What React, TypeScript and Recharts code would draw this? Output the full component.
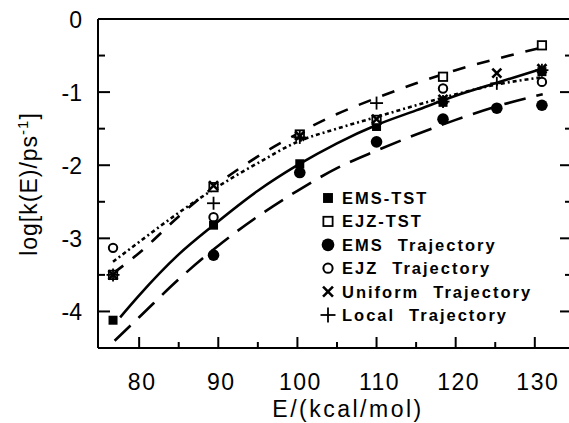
import React from "react";
import { ComposedChart, Line, Scatter, XAxis, YAxis, Legend } from "recharts";

// ---------- data ----------
const xTicks = [80, 85, 90, 95, 100, 105, 110, 115, 120, 125, 130];
const xMajor = [80, 90, 100, 110, 120, 130];
const yTicks = [0, -0.5, -1, -1.5, -2, -2.5, -3, -3.5, -4];
const yMajor = [0, -1, -2, -3, -4];

// fitted curves
const emsTstFitE = [77.6, 80, 85, 89.4, 95, 100, 105, 110, 115, 120, 125, 130.9];
const emsTstFitV = [-4.08, -3.78, -3.22, -2.82, -2.35, -2.0, -1.7, -1.45, -1.25, -1.05, -0.88, -0.68];

const emsTrajFitE = [76.9, 80, 85, 90, 95, 100, 105, 110, 115, 120, 125, 131];
const emsTrajFitV = [-4.4, -4.08, -3.56, -3.1, -2.7, -2.35, -2.04, -1.8, -1.58, -1.38, -1.2, -1.03];

const ejzTstFitE = [76.7, 80, 85, 89.4, 95, 100, 105, 110, 115, 120, 125, 130.5];
const ejzTstFitV = [-3.48, -3.2, -2.7, -2.3, -1.88, -1.57, -1.3, -1.08, -0.88, -0.7, -0.55, -0.4];

const ejzTrajFitE = [76.7, 80, 85, 89.4, 95, 100, 105, 110, 115, 120, 125, 130.8];
const ejzTrajFitV = [-3.32, -3.05, -2.65, -2.33, -1.97, -1.68, -1.5, -1.34, -1.18, -1.03, -0.9, -0.8];

// points
const emsTstE = [76.7, 89.4, 100.3, 110.0, 118.4, 130.9];
const emsTstV = [-4.12, -2.82, -1.98, -1.47, -1.14, -0.72];

const ejzTstE = [76.7, 89.4, 100.3, 110.0, 118.4, 130.9];
const ejzTstV = [-3.5, -2.3, -1.58, -1.38, -0.79, -0.36];

const emsTrajE = [89.4, 100.3, 110.0, 118.4, 125.2, 130.9];
const emsTrajV = [-3.23, -2.1, -1.68, -1.37, -1.22, -1.18];

const ejzTrajE = [76.7, 89.4, 118.4, 130.9];
const ejzTrajV = [-3.13, -2.71, -0.95, -0.86];

const uniformE = [76.7, 89.4, 100.3, 110.0, 118.4, 125.2, 130.9];
const uniformV = [-3.5, -2.28, -1.6, -1.37, -1.1, -0.74, -0.68];

const localE = [76.7, 89.4, 100.3, 110.0, 118.4, 125.2, 130.9];
const localV = [-3.5, -2.52, -1.62, -1.15, -1.13, -0.88, -0.7];

const legendNames = [
  ["EMS-TST", ""],
  ["EJZ-TST", ""],
  ["EMS", "Trajectory"],
  ["EJZ", "Trajectory"],
  ["Uniform", "Trajectory"],
  ["Local", "Trajectory"],
];
const legendKinds = ["fsq", "osq", "fci", "oci", "x", "plus"];

const zip = (e: number[], v: number[]) => e.map((x, i) => ({ e: x, v: v[i] }));

// ---------- styles ----------
const FONT = "'Liberation Sans', Arial, Helvetica, sans-serif";
const INK = "#000";

function marker(kind: string, cx: number, cy: number, big = false) {
  const s = big ? 1.1 : 1;
  switch (kind) {
    case "fsq":
      return <rect x={cx - 4.5 * s} y={cy - 4.5 * s} width={9 * s} height={9 * s} fill={INK} />;
    case "osq":
      return (
        <rect x={cx - 4.2 * s} y={cy - 4.2 * s} width={8.4 * s} height={8.4 * s} fill="#fff" stroke={INK} strokeWidth={1.8} />
      );
    case "fci":
      return <circle cx={cx} cy={cy} r={5.8 * s} fill={INK} />;
    case "oci":
      return <circle cx={cx} cy={cy} r={4.2 * s} fill="#fff" stroke={INK} strokeWidth={2} />;
    case "x":
      return (
        <g stroke={INK} strokeWidth={2.6}>
          <line x1={cx - 4.5 * s} y1={cy - 4.5 * s} x2={cx + 4.5 * s} y2={cy + 4.5 * s} />
          <line x1={cx - 4.5 * s} y1={cy + 4.5 * s} x2={cx + 4.5 * s} y2={cy - 4.5 * s} />
        </g>
      );
    default: {
      const h = big ? 7.5 : 6.5;
      return (
        <g stroke={INK} strokeWidth={1.8}>
          <line x1={cx - h} y1={cy} x2={cx + h} y2={cy} />
          <line x1={cx} y1={cy - h} x2={cx} y2={cy + h} />
        </g>
      );
    }
  }
}

const shapeOf = (kind: string) => (p: any) => <g>{marker(kind, p.cx, p.cy)}</g>;

// ---------- ticks ----------
const BottomTick = (p: any) => {
  const { x, y, payload } = p;
  const major = xMajor.includes(payload.value);
  return (
    <g>
      <line x1={x} y1={y} x2={x} y2={y - (major ? 11 : 6)} stroke={INK} strokeWidth={2} />
      {major && (
        <text x={x + 3} y={y + 42} textAnchor="middle" fontSize={23} letterSpacing={1.5} fontFamily={FONT} fill={INK}>
          {payload.value}
        </text>
      )}
    </g>
  );
};
const TopTick = (p: any) => {
  const { x, y, payload } = p;
  const major = xMajor.includes(payload.value);
  return <line x1={x} y1={y} x2={x} y2={y + (major ? 11 : 6)} stroke={INK} strokeWidth={2} />;
};
const LeftTick = (p: any) => {
  const { x, y, payload } = p;
  const major = yMajor.includes(payload.value);
  return (
    <g>
      <line x1={x} y1={y} x2={x + (major ? 12 : 7)} y2={y} stroke={INK} strokeWidth={2} />
      {major && (
        <text x={x - 16} y={y + 9} textAnchor="end" fontSize={23} fontFamily={FONT} fill={INK}>
          {String(payload.value)}
        </text>
      )}
    </g>
  );
};
const RightTick = (p: any) => {
  const { x, y, payload } = p;
  const major = yMajor.includes(payload.value);
  return <line x1={x} y1={y} x2={x - (major ? 12 : 7)} y2={y} stroke={INK} strokeWidth={2} />;
};

const renderYTitle = () => (
  <text transform="rotate(-90)" x={-184} y={37} textAnchor="middle" fontSize={23} letterSpacing={1} fontFamily={FONT} fill={INK}>
    log[k(E)/ps
    <tspan dy={-9} fontSize={15}>-1</tspan>
    <tspan dy={9}>]</tspan>
  </text>
);
const renderXTitle = () => (
  <text x={348} y={417} textAnchor="middle" fontSize={23} letterSpacing={2.5} fontFamily={FONT} fill={INK}>
    E/(kcal/mol)
  </text>
);

const renderLegend = () => (
  <svg width={250} height={145} style={{ display: "block" }}>
    {legendNames.map((n, i) => {
      const cy = 13 + i * 23.4;
      return (
        <g key={i}>
          {marker(legendKinds[i], 18, cy, true)}
          <text x={32} y={cy + 6} fontSize={16.5} fontWeight="bold" letterSpacing={2} fontFamily={FONT} fill={INK}>
            {n[0]}
            {n[1] && <tspan dx={14}>{n[1]}</tspan>}
          </text>
        </g>
      );
    })}
  </svg>
);

export default function App() {
  const axisLine = { stroke: INK, strokeWidth: 2 };
  return (
    <div style={{ position: "absolute", left: 0, top: 0, width: 569, height: 423, overflow: "hidden", background: "#fff" }}>
      <ComposedChart width={578} height={423} margin={{ top: 0, right: 0, bottom: 0, left: 0 }}>
        <XAxis
          xAxisId="b"
          dataKey="e"
          type="number"
          orientation="bottom"
          domain={[74.8, 134.7]}
          ticks={xTicks}
          interval={0}
          tickSize={0}
          tickMargin={0}
          tickLine={false}
          tick={BottomTick}
          axisLine={axisLine}
          height={75}
          allowDataOverflow
          label={renderXTitle}
        />
        <XAxis
          xAxisId="t"
          type="number"
          orientation="top"
          domain={[74.8, 134.7]}
          ticks={xTicks}
          interval={0}
          tickSize={0}
          tickMargin={0}
          tickLine={false}
          tick={TopTick}
          axisLine={axisLine}
          height={19}
          allowDataOverflow
        />
        <YAxis
          yAxisId="l"
          type="number"
          orientation="left"
          domain={[-4.5, 0]}
          ticks={yTicks}
          interval={0}
          tickSize={0}
          tickMargin={0}
          tickLine={false}
          tick={LeftTick}
          axisLine={axisLine}
          width={98}
          allowDataOverflow
          label={renderYTitle}
        />
        <YAxis
          yAxisId="r"
          type="number"
          orientation="right"
          domain={[-4.5, 0]}
          ticks={yTicks}
          interval={0}
          tickSize={0}
          tickMargin={0}
          tickLine={false}
          tick={RightTick}
          axisLine={axisLine}
          width={6}
          allowDataOverflow
        />

        <Line xAxisId="b" yAxisId="l" data={zip(emsTrajFitE, emsTrajFitV)} dataKey="v" type="monotone" stroke={INK} strokeWidth={2.6} strokeDasharray="22 11" dot={false} activeDot={false} isAnimationActive={false} legendType="none" />
        <Line xAxisId="b" yAxisId="l" data={zip(ejzTstFitE, ejzTstFitV)} dataKey="v" type="monotone" stroke={INK} strokeWidth={2.6} strokeDasharray="13 12" dot={false} activeDot={false} isAnimationActive={false} legendType="none" />
        <Line xAxisId="b" yAxisId="l" data={zip(ejzTrajFitE, ejzTrajFitV)} dataKey="v" type="monotone" stroke={INK} strokeWidth={2.6} strokeDasharray="4 3 2 3" dot={false} activeDot={false} isAnimationActive={false} legendType="none" />
        <Line xAxisId="b" yAxisId="l" data={zip(emsTstFitE, emsTstFitV)} dataKey="v" type="monotone" stroke={INK} strokeWidth={2.6} dot={false} activeDot={false} isAnimationActive={false} legendType="none" />

        <Scatter xAxisId="b" yAxisId="l" data={zip(emsTrajE, emsTrajV)} dataKey="v" shape={shapeOf("fci")} isAnimationActive={false} />
        <Scatter xAxisId="b" yAxisId="l" data={zip(emsTstE, emsTstV)} dataKey="v" shape={shapeOf("fsq")} isAnimationActive={false} />
        <Scatter xAxisId="b" yAxisId="l" data={zip(ejzTstE, ejzTstV)} dataKey="v" shape={shapeOf("osq")} isAnimationActive={false} />
        <Scatter xAxisId="b" yAxisId="l" data={zip(ejzTrajE, ejzTrajV)} dataKey="v" shape={shapeOf("oci")} isAnimationActive={false} />
        <Scatter xAxisId="b" yAxisId="l" data={zip(uniformE, uniformV)} dataKey="v" shape={shapeOf("x")} isAnimationActive={false} />
        <Scatter xAxisId="b" yAxisId="l" data={zip(localE, localV)} dataKey="v" shape={shapeOf("plus")} isAnimationActive={false} />

        <Legend
          layout="horizontal"
          verticalAlign="middle"
          align="center"
          content={renderLegend}
          wrapperStyle={{ position: "absolute", left: 310, top: 185, width: 250, height: 145 }}
        />
      </ComposedChart>
    </div>
  );
}
